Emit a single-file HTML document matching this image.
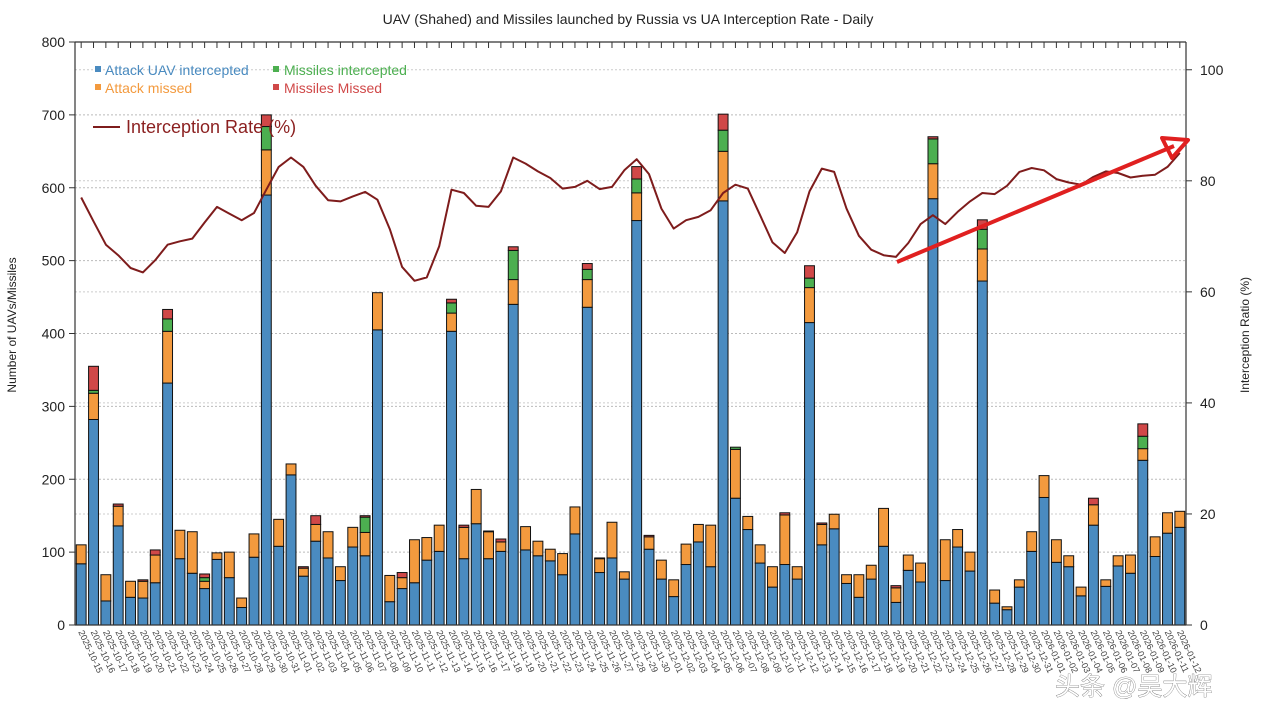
<!DOCTYPE html>
<html><head><meta charset="utf-8">
<style>
html,body{margin:0;padding:0;background:#fff;}
body{width:1280px;height:720px;overflow:hidden;position:relative;font-family:"Liberation Sans",sans-serif;}
svg text{font-family:"Liberation Sans","Noto Sans CJK SC",sans-serif;}
</style></head>
<body>
<svg id="chart" width="1280" height="720" viewBox="0 0 1280 720" xmlns="http://www.w3.org/2000/svg">
<text x="628" y="24" font-size="14" text-anchor="middle" fill="#222">UAV (Shahed) and Missiles launched by Russia vs UA Interception Rate - Daily</text>
<text transform="translate(16,325) rotate(-90)" font-size="12" text-anchor="middle" fill="#222">Number of UAVs/Missiles</text>
<text transform="translate(1249,335) rotate(-90)" font-size="12" text-anchor="middle" fill="#222">Interception Ratio (%)</text>
<g id="grid"></g><g id="bars"></g><g id="line"></g><g id="axes"></g><g id="xlabels"></g>
<g>
<rect x="95" y="66" width="6" height="6" fill="#4a8bc0"/><text x="105" y="75" font-size="14" fill="#4a8bc0">Attack UAV intercepted</text>
<rect x="273" y="66" width="6" height="6" fill="#4caf50"/><text x="284" y="75" font-size="14" fill="#4caf50">Missiles intercepted</text>
<rect x="95" y="84" width="6" height="6" fill="#f39a3e"/><text x="105" y="93" font-size="14" fill="#f39a3e">Attack missed</text>
<rect x="273" y="84" width="6" height="6" fill="#d04848"/><text x="284" y="93" font-size="14" fill="#d04848">Missiles Missed</text>
<line x1="93" y1="127" x2="120" y2="127" stroke="#7e1c1c" stroke-width="2"/><text x="126" y="133" font-size="18" fill="#8b1f1f">Interception Rate (%)</text>
</g>
<g>
<line x1="897" y1="262" x2="1174" y2="146" stroke="#e02020" stroke-width="4"/>
<polygon points="1188,140 1162,138 1172,158" fill="none" stroke="#e02020" stroke-width="4" stroke-linejoin="round"/>
</g>
<text x="1055" y="695" font-size="25" fill="#fff" stroke="#555" stroke-width="0.6" style="paint-order:stroke">头条 @吴大辉</text>
</svg>
<script>
const dates=["2025-10-15","2025-10-16","2025-10-17","2025-10-18","2025-10-19","2025-10-20","2025-10-21","2025-10-22","2025-10-23","2025-10-24","2025-10-25","2025-10-26","2025-10-27","2025-10-28","2025-10-29","2025-10-30","2025-10-31",
"2025-11-01","2025-11-02","2025-11-03","2025-11-04","2025-11-05","2025-11-06","2025-11-07","2025-11-08","2025-11-09","2025-11-10","2025-11-11","2025-11-12","2025-11-13","2025-11-14","2025-11-15","2025-11-16","2025-11-17","2025-11-18","2025-11-19","2025-11-20","2025-11-21","2025-11-22","2025-11-23","2025-11-24","2025-11-25","2025-11-26","2025-11-27","2025-11-28","2025-11-29","2025-11-30",
"2025-12-01","2025-12-02","2025-12-03","2025-12-04","2025-12-05","2025-12-06","2025-12-07","2025-12-08","2025-12-09","2025-12-10","2025-12-11","2025-12-12","2025-12-13","2025-12-14","2025-12-15","2025-12-16","2025-12-17","2025-12-18","2025-12-19","2025-12-20","2025-12-21","2025-12-22","2025-12-23","2025-12-24","2025-12-25","2025-12-26","2025-12-27","2025-12-28","2025-12-29","2025-12-30","2025-12-31",
"2026-01-01","2026-01-02","2026-01-03","2026-01-04","2026-01-05","2026-01-06","2026-01-07","2026-01-08","2026-01-09","2026-01-10","2026-01-11","2026-01-12"];
const uavIntercepted=[84,282,33,136,38,37,58,332,91,71,50,90,65,24,93,590,108,206,67,115,92,61,107,95,405,32,50,58,89,101,403,91,139,91,101,440,103,95,88,69,125,436,72,92,63,555,104,63,39,83,114,80,582,174,131,85,52,83,63,415,110,132,57,38,63,108,31,75,59,585,61,107,74,472,30,21,52,101,175,86,80,40,137,53,81,71,226,94,126,134];
const uavMissed=[26,36,36,27,22,23,38,71,39,57,10,9,35,13,32,62,37,15,11,23,36,19,27,32,51,36,15,59,31,36,25,43,47,37,13,34,32,20,16,29,37,38,19,49,10,38,17,26,23,28,24,57,68,67,18,25,28,68,17,48,28,20,12,31,19,52,20,21,26,48,56,24,26,44,18,4,10,27,30,31,15,12,28,9,14,25,16,27,28,22];
const missilesIntercepted=[0,4,0,0,0,0,0,17,0,0,5,0,0,0,0,32,0,0,0,0,0,0,0,21,0,0,0,0,0,0,14,0,0,0,0,40,0,0,0,0,0,14,0,0,0,19,0,0,0,0,0,0,29,3,0,0,0,0,0,13,0,0,0,0,0,0,0,0,0,34,0,0,0,27,0,0,0,0,0,0,0,0,0,0,0,0,17,0,0,0];
const missilesMissed=[0,33,0,3,0,2,7,13,0,0,5,0,0,0,0,16,0,0,2,12,0,0,0,2,0,0,7,0,0,0,5,3,0,1,4,5,0,0,0,0,0,8,1,0,0,17,2,0,0,0,0,0,22,0,0,0,0,3,0,17,2,0,0,0,0,0,3,0,0,3,0,0,0,13,0,0,0,0,0,0,0,0,9,0,0,0,17,0,0,0];
const interceptionRate=[77.0,72.7,68.5,66.6,64.3,63.5,65.7,68.5,69.1,69.6,72.5,75.3,74.1,72.9,74.2,78.4,82.5,84.2,82.5,79.1,76.5,76.3,77.2,78.0,76.6,71.3,64.5,62.0,62.6,68.2,78.4,77.8,75.5,75.3,78.1,84.2,83.1,81.7,80.5,78.6,78.9,80.0,78.5,78.9,81.9,83.9,81.2,75.0,71.4,72.9,73.5,74.7,77.8,79.3,78.6,73.8,68.9,67.0,70.7,78.1,82.2,81.6,75.0,70.1,67.6,66.6,66.3,68.8,72.2,73.8,72.2,74.4,76.3,77.8,77.6,79.1,81.6,82.3,81.9,80.3,79.7,79.3,80.7,81.7,81.4,80.6,80.9,81.1,82.5,85.0];
const leftTicks=[0,100,200,300,400,500,600,700,800];
const rightTicks=[0,20,40,60,80,100];

const NS="http://www.w3.org/2000/svg";
const X0=75,X1=1186,YT=42,YB=625;
const n=dates.length, pitch=(X1-X0)/n, bw=pitch*0.8;
const yL=v=>YB-v*(YB-YT)/800;
const yR=p=>YB-p*(YB-YT)/105;
const xC=i=>X0+pitch*(i+0.5);
function mk(tag,attrs,parent){const e=document.createElementNS(NS,tag);for(const k in attrs)e.setAttribute(k,attrs[k]);parent.appendChild(e);return e;}
const grid=document.getElementById('grid'),bars=document.getElementById('bars'),lineG=document.getElementById('line'),axes=document.getElementById('axes'),xl=document.getElementById('xlabels');
leftTicks.forEach(t=>{
  const g=mk('line',{x1:X0,x2:X1,y1:yL(t),y2:yL(t),stroke:'#bbb','stroke-dasharray':'2,2','stroke-width':1},grid);
  
  
  mk('line',{x1:X0-6,x2:X0,y1:yL(t),y2:yL(t),stroke:'#333'},axes);
  const tx=mk('text',{x:X0-10,y:yL(t)+5,'font-size':14,'text-anchor':'end',fill:'#222'},axes);
  tx.textContent=t;
  
  
});
rightTicks.forEach(t=>{
  const g=mk('line',{x1:X0,x2:X1,y1:yR(t),y2:yR(t),stroke:'#ccc','stroke-dasharray':'2,2','stroke-width':1},grid);
  
  
  mk('line',{x1:X1,x2:X1+6,y1:yR(t),y2:yR(t),stroke:'#333'},axes);
  const tx=mk('text',{x:X1+14,y:yR(t)+5,'font-size':14,fill:'#222'},axes);
  tx.textContent=t;
  
  
});
mk('line',{x1:X0,x2:X0,y1:YT,y2:YB,stroke:'#333','stroke-width':1.2},axes);
mk('line',{x1:X1,x2:X1,y1:YT,y2:YB,stroke:'#333','stroke-width':1.2},axes);
mk('line',{x1:X0,x2:X1,y1:YB,y2:YB,stroke:'#333','stroke-width':1.2},axes);
mk('line',{x1:X0,x2:X1,y1:YT,y2:YT,stroke:'#333','stroke-width':1.2},axes);
const series=[[uavIntercepted,'#4a8bc0','bar-uav-intercepted'],[uavMissed,'#f39a3e','bar-attack-missed'],[missilesIntercepted,'#4caf50','bar-missiles-intercepted'],[missilesMissed,'#d04848','bar-missiles-missed']];
for(let i=0;i<n;i++){
  let acc=0;
  mk('line',{x1:xC(i),x2:xC(i),y1:YT,y2:YT+6,stroke:'#333'},axes);
  series.forEach(([arr,col,name])=>{
    const v=arr[i]; if(v<=0) return;
    const r=mk('rect',{x:xC(i)-bw/2,y:yL(acc+v),width:bw,height:yL(acc)-yL(acc+v),fill:col,stroke:'#111','stroke-width':1},bars);
    
    
    acc+=v;
  });
  const t=mk('text',{transform:`translate(${xC(i)-3},${YB+7}) rotate(65)`,'font-size':9,fill:'#444'},xl);
  t.textContent=dates[i];
  
  
}
const pts=interceptionRate.map((p,i)=>xC(i).toFixed(1)+','+yR(p).toFixed(1)).join(' ');
const pl=mk('polyline',{points:pts,fill:'none',stroke:'#7e1c1c','stroke-width':2,'stroke-linejoin':'round'},lineG);


</script>
</body></html>
